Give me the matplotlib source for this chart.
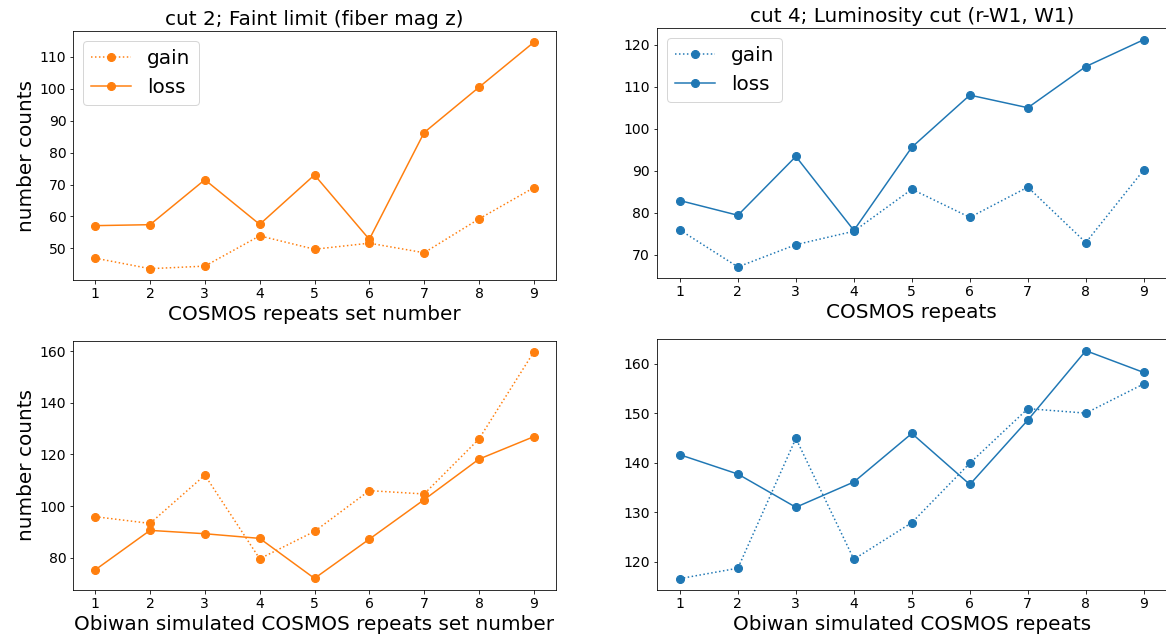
import matplotlib
matplotlib.use("Agg")
import matplotlib.pyplot as plt

# Set numbers on the x axis
sets = [1, 2, 3, 4, 5, 6, 7, 8, 9]

# cut 2: faint limit (fiber mag z), COSMOS repeats
cut2_gain = [46.9, 43.6, 44.4, 53.9, 49.7, 51.6, 48.6, 59.2, 69.0]
cut2_loss = [57.1, 57.4, 71.5, 57.5, 73.0, 52.8, 86.3, 100.5, 114.6]

# cut 4: luminosity cut (r-W1, W1), COSMOS repeats
cut4_gain = [75.9, 67.1, 72.4, 75.6, 85.6, 78.9, 86.1, 72.9, 90.2]
cut4_loss = [82.9, 79.4, 93.4, 75.8, 95.6, 108.0, 105.0, 114.8, 121.2]

# cut 2: Obiwan simulated COSMOS repeats
cut2_sim_gain = [95.9, 93.3, 112.0, 79.6, 90.2, 106.0, 104.7, 126.0, 159.7]
cut2_sim_loss = [75.3, 90.6, 89.3, 87.5, 72.0, 87.2, 102.5, 118.2, 126.9]

# cut 4: Obiwan simulated COSMOS repeats
cut4_sim_gain = [116.6, 118.7, 144.9, 120.5, 127.9, 139.9, 150.9, 150.0, 155.9]
cut4_sim_loss = [141.6, 137.7, 131.0, 136.1, 145.9, 135.6, 148.6, 162.6, 158.2]

titles = ["cut 2; Faint limit (fiber mag z)", "cut 4; Luminosity cut (r-W1, W1)"]
xlabels = ["COSMOS repeats set number", "COSMOS repeats",
           "Obiwan simulated COSMOS repeats set number", "Obiwan simulated COSMOS repeats"]

W, H = 1166, 641
DPI = 72
fig = plt.figure(figsize=(W / DPI, H / DPI), dpi=DPI)


def place(left, top, right, bottom):
    return fig.add_axes([left / W, (H - bottom) / H, (right - left) / W, (bottom - top) / H])


ax_tl = place(73.3, 31.0, 555.7, 280.0)
ax_tr = place(656.7, 28.3, 1167.0, 278.3)
ax_bl = place(73.3, 340.7, 555.7, 589.7)
ax_br = place(656.7, 339.3, 1167.0, 590.0)

panels = [
    (ax_tl, cut2_gain, cut2_loss, "C1", xlabels[0], titles[0], True, True),
    (ax_tr, cut4_gain, cut4_loss, "C0", xlabels[1], titles[1], False, True),
    (ax_bl, cut2_sim_gain, cut2_sim_loss, "C1", xlabels[2], None, True, False),
    (ax_br, cut4_sim_gain, cut4_sim_loss, "C0", xlabels[3], None, False, False),
]

for ax, gain, loss, color, xlab, title, ylab, legend in panels:
    ax.plot(sets, gain, ":", marker="o", color=color, markersize=8, linewidth=1.5, label="gain")
    ax.plot(sets, loss, "-", marker="o", color=color, markersize=8, linewidth=1.5, label="loss")
    ax.set_xticks(sets)
    ax.tick_params(labelsize=14)
    ax.set_xlabel(xlab, fontsize=20)
    if ylab:
        ax.set_ylabel("number counts", fontsize=20)
    if title:
        ax.set_title(title, fontsize=20)
    if legend:
        ax.legend(loc="upper left", fontsize=20)

fig.savefig("out.png", dpi=DPI)
